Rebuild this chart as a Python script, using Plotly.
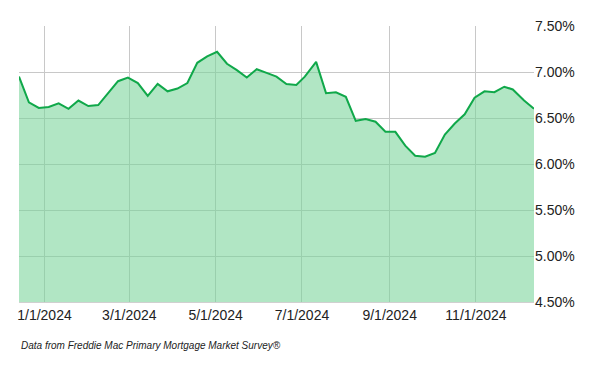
import plotly.graph_objects as go

dates = [
    "2023-12-14", "2023-12-21", "2023-12-28",
    "2024-01-04", "2024-01-11", "2024-01-18", "2024-01-25",
    "2024-02-01", "2024-02-08", "2024-02-15", "2024-02-22", "2024-02-29",
    "2024-03-07", "2024-03-14", "2024-03-21", "2024-03-28",
    "2024-04-04", "2024-04-11", "2024-04-18", "2024-04-25",
    "2024-05-02", "2024-05-09", "2024-05-16", "2024-05-23", "2024-05-30",
    "2024-06-06", "2024-06-13", "2024-06-20", "2024-06-27",
    "2024-07-03", "2024-07-11", "2024-07-18", "2024-07-25",
    "2024-08-01", "2024-08-08", "2024-08-15", "2024-08-22", "2024-08-29",
    "2024-09-05", "2024-09-12", "2024-09-19", "2024-09-26",
    "2024-10-03", "2024-10-10", "2024-10-17", "2024-10-24", "2024-10-31",
    "2024-11-07", "2024-11-14", "2024-11-21", "2024-11-27",
    "2024-12-05", "2024-12-12",
]
rates = [
    6.95, 6.67, 6.61,
    6.62, 6.66, 6.60, 6.69,
    6.63, 6.64, 6.77, 6.90, 6.94,
    6.88, 6.74, 6.87, 6.79,
    6.82, 6.88, 7.10, 7.17,
    7.22, 7.09, 7.02, 6.94, 7.03,
    6.99, 6.95, 6.87, 6.86,
    6.95, 7.11, 6.77, 6.78,
    6.73, 6.47, 6.49, 6.46, 6.35,
    6.35, 6.20, 6.09, 6.08,
    6.12, 6.32, 6.44, 6.54, 6.72,
    6.79, 6.78, 6.84, 6.81,
    6.69, 6.60,
]
x_tick_vals = ["2024-01-01", "2024-03-01", "2024-05-01", "2024-07-01", "2024-09-01", "2024-11-01"]
x_tick_text = ["1/1/2024", "3/1/2024", "5/1/2024", "7/1/2024", "9/1/2024", "11/1/2024"]
y_tick_vals = [4.5, 5.0, 5.5, 6.0, 6.5, 7.0, 7.5]
y_tick_text = ["4.50%", "5.00%", "5.50%", "6.00%", "6.50%", "7.00%", "7.50%"]

fig = go.Figure()
fig.add_trace(go.Scatter(
    x=dates, y=rates, mode="lines",
    line=dict(color="#10a84a", width=2),
    fill="tozeroy", fillcolor="rgba(120,212,153,0.58)",
    hoverinfo="x+y",
))

fig.update_layout(
    width=600, height=371,
    margin=dict(l=19, r=66, t=26, b=69),
    paper_bgcolor="white", plot_bgcolor="white",
    showlegend=False,
    font=dict(family="Liberation Sans, Arial, sans-serif", size=14, color="#222"),
    xaxis=dict(
        range=["2023-12-14", "2024-12-12"],
        tickvals=x_tick_vals, ticktext=x_tick_text,
        showgrid=True, gridcolor="#c8c8c8", gridwidth=1,
        showline=True, linecolor="#d0d0d0", linewidth=1,
        ticks="", zeroline=False, tickfont=dict(size=14),
    ),
    yaxis=dict(
        range=[4.5, 7.5], side="right",
        tickvals=y_tick_vals, ticktext=y_tick_text,
        showgrid=True, gridcolor="#c8c8c8", gridwidth=1,
        ticks="", zeroline=False, showline=False, tickfont=dict(size=14),
    ),
    annotations=[dict(
        text="<i>Data from Freddie Mac Primary Mortgage Market Survey®</i>",
        xref="paper", yref="paper", x=0, y=-0.158, xanchor="left", yanchor="middle",
        showarrow=False, font=dict(size=10, color="#222"),
    )],
)

fig.write_html("out.html")
